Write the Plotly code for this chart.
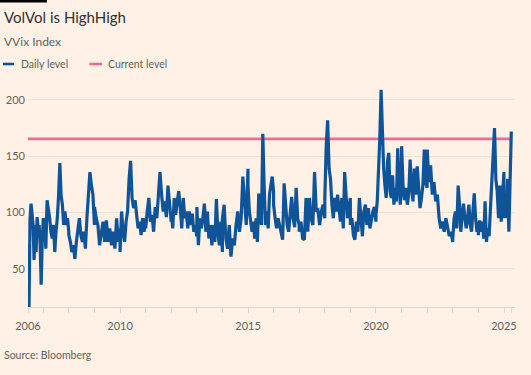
import plotly.graph_objects as go
import pandas as pd

# ---------------- data ----------------
v2006 = [72, 16, 95, 108, 99, 89, 58, 89, 65, 96, 86, 89, 71, 36, 74, 86]
v2007 = [95, 92, 68, 111, 104, 95, 83, 77, 89, 65, 83, 95, 115, 144, 115, 107, 89, 101, 89, 95, 83]
v2008 = [80, 74, 65, 71, 59, 74, 83, 95, 80, 74, 83, 68, 95, 113, 136, 124, 116, 89]
v2009 = [105, 95, 89, 71, 83, 92, 74, 93, 74, 86, 71, 83, 68, 95, 74, 86]
v2010 = [65, 101, 83, 74, 92, 101, 130, 146, 113, 104, 111, 95, 86, 92, 80, 95, 83, 95]
v2011 = [86, 101, 113, 92, 98, 83, 105, 95, 113, 136, 116, 101, 110, 96, 124, 107, 92]
v2012 = [101, 86, 113, 98, 110, 119, 104, 86, 113, 95, 101, 86, 101, 89, 99, 83, 89, 79]
v2013 = [105, 71, 95, 86, 95, 108, 83, 101, 77, 89, 71, 89, 74, 112, 83, 71, 92, 65]
v2014 = [95, 107, 77, 68, 89, 61, 77, 71, 89, 101, 83, 95, 132, 107, 89, 139]
v2015 = [124, 101, 89, 83, 92, 77, 95, 74, 117, 95, 89, 170, 124, 89, 101, 86, 116, 127, 132, 119]
v2016 = [107, 95, 86, 95, 89, 83, 76, 126, 101, 89, 83, 101, 114, 95, 87, 122, 95, 89]
v2017 = [83, 92, 77, 76, 113, 83, 113, 95, 89, 136, 101, 102, 89, 101, 107, 95]
v2018 = [113, 160, 182, 139, 130, 107, 95, 113, 101, 116, 104, 92, 113, 86, 136, 116, 95, 104, 113]
v2019 = [89, 95, 80, 76, 92, 83, 113, 98, 79, 101, 107, 89, 104, 86, 95, 101, 105, 92]
v2020 = [98, 110, 133, 166, 209, 166, 139, 124, 113, 145, 153, 119, 113, 133, 107, 122, 110, 157, 124, 107, 127]
v2021 = [159, 124, 111, 122, 107, 116, 147, 124, 110, 139, 116, 141, 122, 104, 113, 124, 156, 127, 122]
v2022 = [156, 127, 142, 116, 127, 110, 116, 95, 86, 92, 83, 95, 86, 79, 83, 74]
v2023 = [77, 95, 101, 86, 124, 107, 83, 98, 108, 95, 86, 95, 107, 89, 83, 101, 117, 95, 83, 92]
v2024 = [80, 93, 83, 92, 77, 110, 74, 86, 79, 104, 127, 154, 175, 130, 119, 95, 124, 92, 116, 136]
v2025 = [95, 113, 95, 130, 83, 136, 172]

years = list(range(2006, 2026))
yearly = [v2006, v2007, v2008, v2009, v2010, v2011, v2012, v2013, v2014, v2015,
          v2016, v2017, v2018, v2019, v2020, v2021, v2022, v2023, v2024, v2025]

data_start = "2006-05-28"
data_end = "2025-04-15"
axis_end = "2025-06-07"
current_level = 165.5

y_ticks = [50, 100, 150, 200]
x_labelled = {2010: "2010", 2015: "2015", 2020: "2020", 2025: "2025"}

# ---------------- build series ----------------
dates, vals = [], []
for yr, v in zip(years, yearly):
    s = data_start if yr == 2006 else f"{yr}-01-01"
    e = data_end if yr == 2025 else f"{yr}-12-31"
    dates.extend(pd.date_range(s, e, periods=len(v)))
    vals.extend(v)

# ---------------- style ----------------
BG = "#fff1e5"
BLUE = "#0f5499"
PINK = "#eb6d93"
TXT = "#33302e"
MUTED = "#66605c"
GRID = "#efe1d5"
AXIS = "#e3d5c9"
FONT = "Lato, Roboto, sans-serif"

W, H = 531, 375
ML, MR, MT, MB = 28, 16, 86, 68
PW, PH = W - ML - MR, H - MT - MB

def px(x):
    return (x - ML) / PW

def py(y):
    return 1 - (y - MT) / PH

fig = go.Figure()
fig.add_trace(go.Scatter(x=[data_start, data_end], y=[current_level, current_level],
                         mode="lines", line=dict(color=PINK, width=2.6),
                         name="Current level", hoverinfo="skip"))
fig.add_trace(go.Scatter(x=dates, y=vals, mode="lines",
                         line=dict(color=BLUE, width=3.2, shape="linear"),
                         name="Daily level"))

tickvals = [data_start] + [f"{y}-01-01" for y in range(2007, 2026)] + [data_end]
ticktext = ["2006"] + [x_labelled.get(y, "") for y in range(2007, 2026)] + [""]

fig.update_layout(
    width=W, height=H, autosize=False,
    margin=dict(l=ML, r=MR, t=MT, b=MB, pad=0, autoexpand=False),
    paper_bgcolor=BG, plot_bgcolor=BG,
    showlegend=False, hovermode=False,
    font=dict(family=FONT, color=MUTED, size=11),
    xaxis=dict(type="date", range=[data_start, axis_end], automargin=False,
               tickmode="array", tickvals=tickvals, ticktext=ticktext,
               ticks="outside", ticklen=5, tickcolor=AXIS, tickwidth=1,
               showgrid=False, zeroline=False,
               showline=True, linecolor=AXIS, linewidth=1,
               tickfont=dict(size=11, color=MUTED, family=FONT),
               ticklabelstandoff=4),
    yaxis=dict(range=[16.2, 212.4], tickmode="array", tickvals=y_ticks, automargin=False,
               showgrid=True, gridcolor=GRID, gridwidth=1,
               zeroline=False, showline=False, ticks="",
               tickfont=dict(size=11, color=MUTED, family=FONT),
               ticklabelstandoff=2),
)

shapes = [
    dict(type="rect", xref="paper", yref="paper", x0=px(0), x1=px(47), y0=py(0), y1=py(2.5),
         fillcolor="#000000", line=dict(width=0), layer="above"),
    dict(type="line", xref="paper", yref="paper", x0=px(3), x1=px(14), y0=py(64), y1=py(64),
         line=dict(color=BLUE, width=2.6)),
    dict(type="line", xref="paper", yref="paper", x0=px(89.5), x1=px(102), y0=py(64), y1=py(64),
         line=dict(color=PINK, width=2.6)),
]
annotations = [
    dict(text="VolVol is HighHigh", x=px(2), y=py(17), xref="paper", yref="paper",
         xanchor="left", yanchor="middle", showarrow=False,
         font=dict(size=15, color=TXT, family=FONT)),
    dict(text="VVix Index", x=px(2), y=py(41.5), xref="paper", yref="paper",
         xanchor="left", yanchor="middle", showarrow=False,
         font=dict(size=12, color=MUTED, family=FONT)),
    dict(text="Daily level", x=px(19), y=py(64), xref="paper", yref="paper",
         xanchor="left", yanchor="middle", showarrow=False,
         font=dict(size=10.5, color=MUTED, family=FONT)),
    dict(text="Current level", x=px(106), y=py(64), xref="paper", yref="paper",
         xanchor="left", yanchor="middle", showarrow=False,
         font=dict(size=10.5, color=MUTED, family=FONT)),
    dict(text="Source: Bloomberg", x=px(2), y=py(355), xref="paper", yref="paper",
         xanchor="left", yanchor="middle", showarrow=False,
         font=dict(size=10.5, color=MUTED, family=FONT)),
]
fig.update_layout(shapes=shapes, annotations=annotations)

fig.write_html("out.html", config={"displayModeBar": False, "staticPlot": True},
               post_script="document.body.style.margin='0';document.body.style.padding='0';")
